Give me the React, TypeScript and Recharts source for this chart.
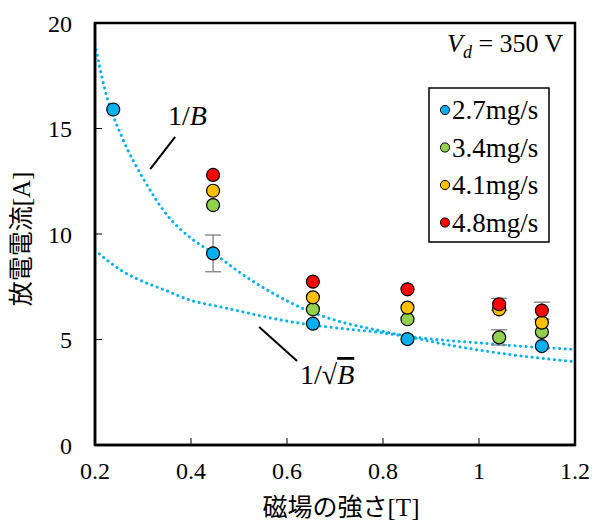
import React from 'react';
import {
  ComposedChart,
  XAxis,
  YAxis,
  Scatter,
  Line,
  ErrorBar,
  ReferenceArea,
  ReferenceLine,
  Customized
} from 'recharts';

// measured points: field B [T] vs discharge current [A]
const b27 = [0.238, 0.446, 0.654, 0.851, 1.131];
const i27 = [15.9, 9.08, 5.75, 5.02, 4.69];
const e27 = [0, 0.87, 0, 0, 0];

const bHigh = [0.446, 0.654, 0.851, 1.042, 1.131];
const i34 = [11.37, 6.43, 5.96, 5.1, 5.36];
const e34 = [0, 0, 0, 0.36, 0];
const i41 = [12.05, 7.0, 6.51, 6.43, 5.8];
const e41 = [0, 0, 0, 0, 0];
const i48 = [12.8, 7.74, 7.38, 6.67, 6.37];
const e48 = [0, 0, 0, 0.28, 0.4];

// dotted fit curves
const fitB = [0.2, 0.22, 0.26, 0.3, 0.35, 0.4, 0.45, 0.5, 0.57, 0.64, 0.71, 0.78, 0.85, 0.93, 1.0, 1.07, 1.13, 1.2];
const fitInvB = [19.0, 16.9, 14.4, 12.65, 10.9, 9.8, 9.05, 8.2, 7.2, 6.4, 5.85, 5.48, 5.15, 4.77, 4.5, 4.27, 4.11, 3.95];
const fitInvSqrtB = [9.24, 8.85, 8.2, 7.75, 7.3, 6.85, 6.6, 6.35, 6.0, 5.73, 5.53, 5.37, 5.15, 4.96, 4.84, 4.71, 4.62, 4.53];

const xTicks = [0.2, 0.4, 0.6, 0.8, 1, 1.2];
const yTicks = [0, 5, 10, 15, 20];

const seriesNames = ['2.7mg/s', '3.4mg/s', '4.1mg/s', '4.8mg/s'];
const seriesColors = ['#00B0F0', '#92D050', '#FFC000', '#FF0000'];

const toPoints = (xs: number[], ys: number[], es: number[]) =>
  xs.map((b, k) => ({ b, i: ys[k], err: es[k] }));

const series = [
  toPoints(b27, i27, e27),
  toPoints(bHigh, i34, e34),
  toPoints(bHigh, i41, e41),
  toPoints(bHigh, i48, e48)
];

const invB = fitB.map((b, k) => ({ b, i: fitInvB[k] }));
const invSqrtB = fitB.map((b, k) => ({ b, i: fitInvSqrtB[k] }));

const serif = '"Liberation Serif", "Times New Roman", serif';
const cjk = '"Noto Sans CJK JP", sans-serif';
const fitColor = '#00B0F0';

const marker = (color: string) => (p: any) =>
  <circle cx={p.cx} cy={p.cy} r={6.5} fill={color} stroke="#000" strokeWidth={1.2} />;

// legend box drawn inside the svg so it takes no layout room
const LegendBox = () => (
  <g transform="translate(429,88)">
    <rect x={0} y={0} width={120} height={154} fill="#fff" stroke="#000" strokeWidth={1.5} />
    {seriesNames.map((name, k) => (
      <g key={name}>
        <circle cx={16} cy={22 + k * 37.5} r={4.6} fill={seriesColors[k]} stroke="#000" strokeWidth={1} />
        <text x={23} y={31 + k * 37.5} fontFamily={serif} fontSize={27} fill="#000">
          {name}
        </text>
      </g>
    ))}
  </g>
);

const Annotations = () => (
  <g>
    <text x={168} y={125} fontFamily={serif} fontSize={28} fill="#000">
      1/<tspan fontStyle="italic">B</tspan>
    </text>
    <text x={300} y={384} fontFamily={serif} fontSize={28} fill="#000">
      1/√<tspan fontStyle="italic" textDecoration="overline">B</tspan>
    </text>
    <text x={447} y={52} fontFamily={serif} fontSize={26} fill="#000">
      <tspan fontStyle="italic">V</tspan>
      <tspan fontStyle="italic" fontSize={18} dy={6}>d</tspan>
      <tspan dy={-6}> = 350 V</tspan>
    </text>
    <text transform="translate(30,239) rotate(-90)" textAnchor="middle" fontSize={25} fill="#000">
      <tspan fontFamily={cjk}>放電電流</tspan>
      <tspan fontFamily={serif}>[A]</tspan>
    </text>
    <text x={341} y={516} textAnchor="middle" fontSize={25} fill="#000">
      <tspan fontFamily={cjk}>磁場の強さ</tspan>
      <tspan fontFamily={serif}>[T]</tspan>
    </text>
    <LegendBox />
  </g>
);

export default function App() {
  return (
    <div style={{ position: 'absolute', left: 0, top: 0, background: '#fff' }}>
      <ComposedChart
        width={594}
        height={522}
        margin={{ top: 23, right: 19, bottom: 0, left: 0 }}
      >
        <ReferenceArea x1={0.2} x2={1.2} y1={0} y2={20} fill="none" stroke="#000" strokeWidth={2.5} />
        <XAxis
          type="number"
          dataKey="b"
          domain={[0.2, 1.2]}
          ticks={xTicks}
          allowDataOverflow
          height={77}
          tickSize={-7}
          tickMargin={24}
          axisLine={{ stroke: '#000', strokeWidth: 2.5 }}
          tickLine={{ stroke: '#000', strokeWidth: 1 }}
          tick={{ fill: '#000', fontSize: 24, fontFamily: serif }}
          tickFormatter={(v: number) => String(v)}
        />
        <YAxis
          type="number"
          dataKey="i"
          domain={[0, 20]}
          ticks={yTicks}
          allowDataOverflow
          width={95}
          tickSize={-7}
          tickMargin={30}
          axisLine={{ stroke: '#000', strokeWidth: 2.5 }}
          tickLine={{ stroke: '#000', strokeWidth: 1 }}
          tick={{ fill: '#000', fontSize: 24, fontFamily: serif }}
        />
        <Line
          data={invB}
          dataKey="i"
          type="monotone"
          stroke={fitColor}
          strokeWidth={3}
          strokeDasharray="0.1 5.5"
          strokeLinecap="round"
          dot={false}
          activeDot={false}
          isAnimationActive={false}
          legendType="none"
        />
        <Line
          data={invSqrtB}
          dataKey="i"
          type="monotone"
          stroke={fitColor}
          strokeWidth={3}
          strokeDasharray="0.1 5.5"
          strokeLinecap="round"
          dot={false}
          activeDot={false}
          isAnimationActive={false}
          legendType="none"
        />
        <ReferenceLine segment={[{ x: 0.367, y: 14.6 }, { x: 0.315, y: 13.08 }]} stroke="#000" strokeWidth={2} />
        <ReferenceLine segment={[{ x: 0.542, y: 5.59 }, { x: 0.621, y: 3.98 }]} stroke="#000" strokeWidth={2} />
        {series.map((pts, k) => (
          <Scatter
            key={seriesNames[k]}
            name={seriesNames[k]}
            data={pts}
            dataKey="i"
            fill={seriesColors[k]}
            shape={marker(seriesColors[k])}
            isAnimationActive={false}
          >
            <ErrorBar dataKey="err" direction="y" width={8} stroke="#7F7F7F" strokeWidth={1.3} />
          </Scatter>
        ))}
        <Customized component={Annotations} />
      </ComposedChart>
    </div>
  );
}
